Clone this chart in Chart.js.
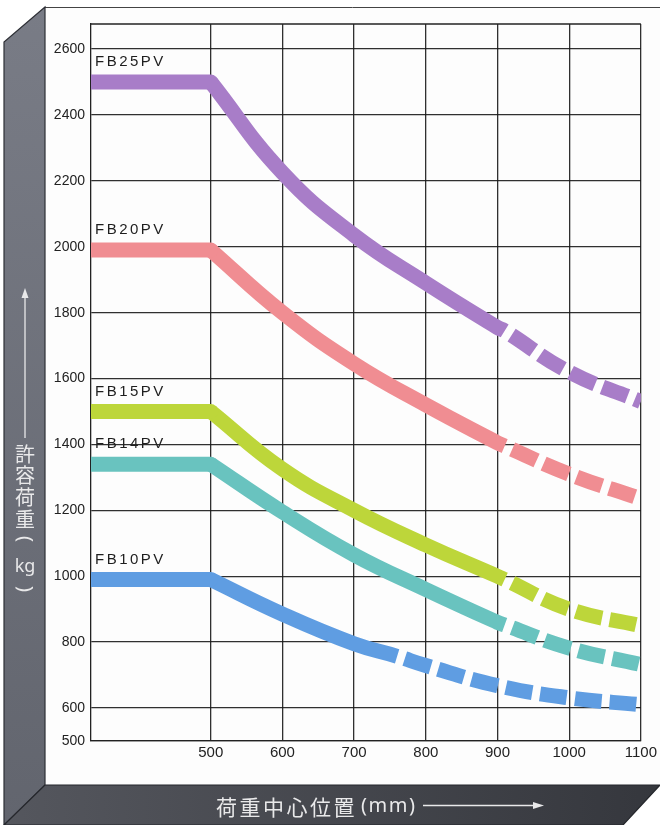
<!DOCTYPE html>
<html><head><meta charset="utf-8">
<script src="https://cdn.jsdelivr.net/npm/chart.js@4.4.1/dist/chart.umd.min.js"></script>
<style>html,body{margin:0;padding:0;background:#fff;overflow:hidden;} canvas{display:block;}</style>
</head><body>
<canvas id="c" width="660" height="825"></canvas>
<script>
// ---- data ----
const loadCenters = [500, 600, 700, 800, 900, 1000, 1100];
const xAxisTicks = [500, 600, 700, 800, 900, 1000, 1100];
const yAxisTicks = [500, 600, 800, 1000, 1200, 1400, 1600, 1800, 2000, 2200, 2400, 2600];
const models = ['FB25PV', 'FB20PV', 'FB15PV', 'FB14PV', 'FB10PV'];
const fb25pv = [2500, 2225, 2035, 1890, 1755, 1620, 1530];
const fb20pv = [1990, 1800, 1645, 1520, 1405, 1310, 1235];
const fb15pv = [1500, 1325, 1200, 1095, 1000, 900, 850];
const fb14pv = [1340, 1195, 1065, 960, 860, 782, 732];
const fb10pv = [990, 885, 795, 729, 668, 631, 610];
// point where each solid band ends and the dashed part begins
const solidEndX = [910, 910, 910, 910, 760];
const solidEndY = [1745, 1395, 990, 852, 757];
const seriesValues = [fb25pv, fb20pv, fb15pv, fb14pv, fb10pv];
const colors = ['#a87dc8', '#f08d92', '#bdd63a', '#69c3bf', '#5f9de2'];

const X_MIN = 333, X_MAX = 1100, Y_MIN = 500, Y_MAX = 2676;
const DASH = [27, 8];

const datasets = [];
seriesValues.forEach((vals, i) => {
  // flat part
  datasets.push({
    label: models[i] + ' flat',
    data: [{x: X_MIN, y: vals[0]}, {x: loadCenters[0], y: vals[0]}],
    borderColor: colors[i], borderWidth: 15, borderCapStyle: 'round',
    pointRadius: 0, tension: 0, clip: 0, fill: false
  });
  // falling part
  const pts = loadCenters.map((x, k) => ({x, y: vals[k]}));
  pts.push({x: solidEndX[i], y: solidEndY[i]});
  pts.sort((a, b) => a.x - b.x);
  const endX = solidEndX[i];
  datasets.push({
    label: models[i],
    data: pts,
    borderColor: colors[i], borderWidth: 15, borderCapStyle: 'butt',
    pointRadius: 0, tension: 0.45, clip: 0, fill: false,
    segment: {
      borderDash: ctx => ctx.p0.parsed.x >= endX ? DASH : undefined,
      borderDashOffset: ctx => ctx.p0.parsed.x >= endX ? DASH[0] : undefined
    }
  });
});

function arrowHead(ctx, tipX, tipY, dir, len, half) {
  ctx.beginPath();
  if (dir === 'up') {
    ctx.moveTo(tipX, tipY); ctx.lineTo(tipX - half, tipY + len); ctx.lineTo(tipX + half, tipY + len);
  } else {
    ctx.moveTo(tipX, tipY); ctx.lineTo(tipX - len, tipY - half); ctx.lineTo(tipX - len, tipY + half);
  }
  ctx.closePath(); ctx.fill();
}

const framePlugin = {
  id: 'frame',
  beforeDraw(chart) {
    const ctx = chart.ctx;
    ctx.save();
    ctx.fillStyle = '#ffffff';
    ctx.fillRect(0, 0, 660, 825);
    // white sheet
    ctx.fillStyle = '#fdfdfd';
    ctx.fillRect(45, 7, 615, 778);
    ctx.strokeStyle = '#444'; ctx.lineWidth = 1;
    ctx.beginPath(); ctx.moveTo(45, 7.5); ctx.lineTo(660, 7.5); ctx.stroke();
    // left side face
    let g = ctx.createLinearGradient(0, 0, 0, 825);
    g.addColorStop(0, '#797c86'); g.addColorStop(1, '#62656e');
    ctx.fillStyle = g;
    ctx.beginPath();
    ctx.moveTo(45, 7); ctx.lineTo(4, 42); ctx.lineTo(4, 825); ctx.lineTo(45, 785); ctx.closePath();
    ctx.fill();
    ctx.strokeStyle = '#2e3036'; ctx.lineWidth = 1.2; ctx.stroke();
    // bottom face
    g = ctx.createLinearGradient(0, 0, 660, 0);
    g.addColorStop(0, '#55575e'); g.addColorStop(1, '#35373d');
    ctx.fillStyle = g;
    ctx.beginPath();
    ctx.moveTo(45, 785); ctx.lineTo(660, 785); ctx.lineTo(623, 825); ctx.lineTo(4, 825); ctx.closePath();
    ctx.fill();
    ctx.strokeStyle = '#25272c'; ctx.stroke();

    // vertical axis title
    ctx.fillStyle = '#e9e9ea'; ctx.strokeStyle = '#e9e9ea';
    ctx.lineWidth = 1.3;
    ctx.beginPath(); ctx.moveTo(25, 438); ctx.lineTo(25, 296); ctx.stroke();
    arrowHead(ctx, 25, 288, 'up', 10, 3.5);
    ctx.font = '20px "Noto Sans CJK JP"';
    ctx.textAlign = 'center'; ctx.textBaseline = 'middle';
    ['許', '容', '荷', '重'].forEach((ch, k) => ctx.fillText(ch, 25, 454 + k * 21.7));
    ctx.font = '20px "Noto Sans"';
    [['(', 539], [')', 589]].forEach(([ch, yy]) => {
      ctx.save(); ctx.translate(25, yy); ctx.rotate(Math.PI / 2);
      ctx.fillText(ch, 0, 0); ctx.restore();
    });
    ctx.font = '18px "Noto Sans"';
    ctx.fillText('kg', 25, 567);

    // horizontal axis title
    ctx.textAlign = 'left';
    ctx.font = '21px "Noto Sans CJK JP"';
    ctx.letterSpacing = '2.5px';
    ctx.fillText('荷重中心位置', 216, 807);
    ctx.font = '20px "Noto Sans"';
    ctx.letterSpacing = '1.5px';
    ctx.fillText('(mm)', 361, 806);
    ctx.letterSpacing = '0px';
    ctx.lineWidth = 1.3;
    ctx.beginPath(); ctx.moveTo(423, 805.5); ctx.lineTo(534, 805.5); ctx.stroke();
    arrowHead(ctx, 544, 805.5, 'right', 11, 3.5);
    ctx.restore();
  },
  afterDraw(chart) {
    const ctx = chart.ctx, a = chart.chartArea, ys = chart.scales.y;
    ctx.save();
    ctx.strokeStyle = '#222'; ctx.lineWidth = 1.3;
    ctx.beginPath(); ctx.moveTo(a.left, a.top); ctx.lineTo(a.right, a.top); ctx.stroke();
    ctx.fillStyle = '#1e1e1e';
    ctx.font = '15px "Liberation Sans"';
    ctx.letterSpacing = '2.5px';
    ctx.textAlign = 'left'; ctx.textBaseline = 'middle';
    models.forEach((m, i) => {
      ctx.fillText(m, a.left + 4, ys.getPixelForValue(seriesValues[i][0]) - 20);
    });
    ctx.restore();
  }
};

new Chart(document.getElementById('c'), {
  type: 'line',
  data: { datasets },
  options: {
    responsive: false,
    animation: false,
    layout: { padding: { left: 45, right: 17, top: 24, bottom: 40 } },
    plugins: { legend: { display: false }, tooltip: { enabled: false } },
    scales: {
      x: {
        type: 'linear', min: X_MIN, max: X_MAX, z: 1,
        afterBuildTicks: s => { s.ticks = xAxisTicks.map(v => ({value: v})); },
        afterFit: s => { s.height = 44; },
        grid: { color: 'rgba(25,25,25,0.9)', lineWidth: 1.3, drawTicks: false },
        border: { display: true, color: '#222', width: 1.3 },
        ticks: { color: '#222', padding: 3, font: { family: 'Liberation Sans', size: 15 }, maxRotation: 0,
                 callback: v => String(v) }
      },
      y: {
        type: 'linear', min: Y_MIN, max: Y_MAX, z: 1,
        afterBuildTicks: s => { s.ticks = yAxisTicks.map(v => ({value: v})); },
        afterFit: s => { s.width = 46; },
        grid: { color: 'rgba(25,25,25,0.9)', lineWidth: 1.3, drawTicks: false },
        border: { display: true, color: '#222', width: 1.3 },
        ticks: { color: '#222', padding: 6, font: { family: 'Liberation Sans', size: 14 },
                 callback: v => String(v) }
      }
    }
  },
  plugins: [framePlugin]
});
</script>
</body></html>
